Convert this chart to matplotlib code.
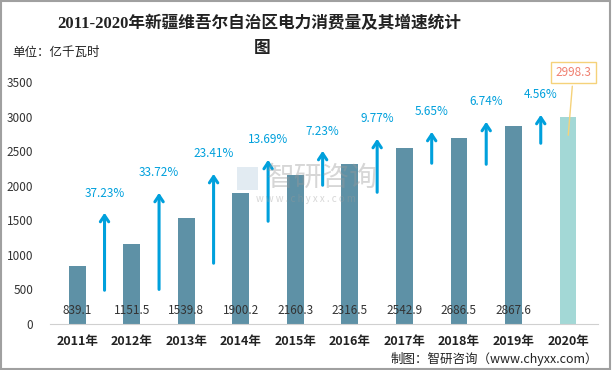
import matplotlib
matplotlib.use("Agg")
import matplotlib.pyplot as plt
from matplotlib.patches import Rectangle

plt.rcParams['font.family'] = ['Noto Sans CJK SC', 'DejaVu Sans']

years = ['2011年', '2012年', '2013年', '2014年', '2015年', '2016年', '2017年', '2018年', '2019年', '2020年']
consumption = [839.1, 1151.5, 1539.8, 1900.2, 2160.3, 2316.5, 2542.9, 2686.5, 2867.6, 2998.3]
growth = ['37.23%', '33.72%', '23.41%', '13.69%', '7.23%', '9.77%', '5.65%', '6.74%', '4.56%']
# arrow start / end (data units)
arrow_lo = [448, 460, 839, 1446, 1967, 1865, 2285, 2270, 2574]
arrow_hi = [1649, 1938, 2212, 2415, 2545, 2719, 2820, 2965, 3066]
label_y = [1894, 2198, 2473, 2675, 2791, 2965, 3080, 3224, 3326]

bar_col = '#5e91a6'
last_col = '#a3d8d6'
arrow_col = '#00a0dc'

fig = plt.figure(figsize=(6.12, 3.70), dpi=100)
ax = fig.add_axes([50/612, 1-324/370, 548/612, 242/370])

x = list(range(len(years)))
colors = [bar_col]*(len(years)-1) + [last_col]
ax.bar(x, consumption, width=0.31, color=colors, zorder=2)

for i, v in enumerate(consumption[:-1]):
    ax.text(i, 190, f'{v:.1f}', ha='center', va='center', fontsize=8.5, color='#333333', zorder=3)

for i in range(len(growth)):
    xm = i + 0.5
    ax.annotate('', xy=(xm, arrow_hi[i]), xytext=(xm, arrow_lo[i]),
                arrowprops=dict(arrowstyle='->,head_length=0.45,head_width=0.3', color=arrow_col, lw=2.2),
                zorder=4)
    ax.text(xm, label_y[i], growth[i], ha='center', va='center', fontsize=8.5, color=arrow_col)

# callout for the last bar
ax.annotate(f'{consumption[-1]:.1f}', xy=(9, 2690), xytext=(9.1, 3640),
            ha='center', va='center', fontsize=8.5, color='#f08070',
            bbox=dict(boxstyle='square,pad=0.35', fc='white', ec='#f5d27a', lw=1),
            arrowprops=dict(arrowstyle='-', color='#f5d27a', lw=1),
            annotation_clip=False)

ax.set_xlim(-0.5, 9.55)
ax.set_ylim(0, 3500)
ax.set_yticks(range(0, 3501, 500))
ax.set_xticks(x)
ax.set_xticklabels(years, fontweight='bold', fontsize=9, color='#222222')
ax.tick_params(axis='y', length=0, labelsize=8.5, labelcolor='#333333', pad=12)
ax.tick_params(axis='x', length=0, pad=8)
for s in ['top', 'right', 'left']:
    ax.spines[s].set_visible(False)
ax.spines['bottom'].set_color('#d0d0d0')

# watermark
fig.text(322/612, 1-178/370, '智研咨询', fontsize=20, color='#9a9a9a', alpha=0.4, ha='center', va='center')
fig.text(306/612, 1-199/370, 'w w w . c h y x x . c o m', fontsize=7, color='#9a9a9a', alpha=0.4,
         ha='center', va='center')
fig.patches.append(Rectangle((237/612, 1-190/370), 21/612, 23/370, transform=fig.transFigure,
                             fc='#b8cde0', alpha=0.4, ec='none'))

fig.text(259/612, 1-24/370, '2011-2020年新疆维吾尔自治区电力消费量及其增速统计', ha='center', va='center',
         fontsize=12, fontweight='bold', family=['Liberation Serif', 'Noto Sans CJK SC'], color='#222222')
fig.text(262/612, 1-48/370, '图', ha='center', va='center', fontsize=12, fontweight='bold',
         family=['Noto Sans CJK SC'], color='#222222')
fig.text(12/612, 1-52/370, '单位：亿千瓦时', ha='left', va='center', fontsize=9, color='#222222')
fig.text(598/612, 1-359/370, '制图：智研咨询（www.chyxx.com）', ha='right', va='center', fontsize=9,
         color='#222222')

fig.patches.append(Rectangle((0.002, 0.003), 0.995, 0.994, transform=fig.transFigure,
                             fill=False, ec='#a0a0a0', lw=1.5))

fig.savefig('out.png', dpi=100)
